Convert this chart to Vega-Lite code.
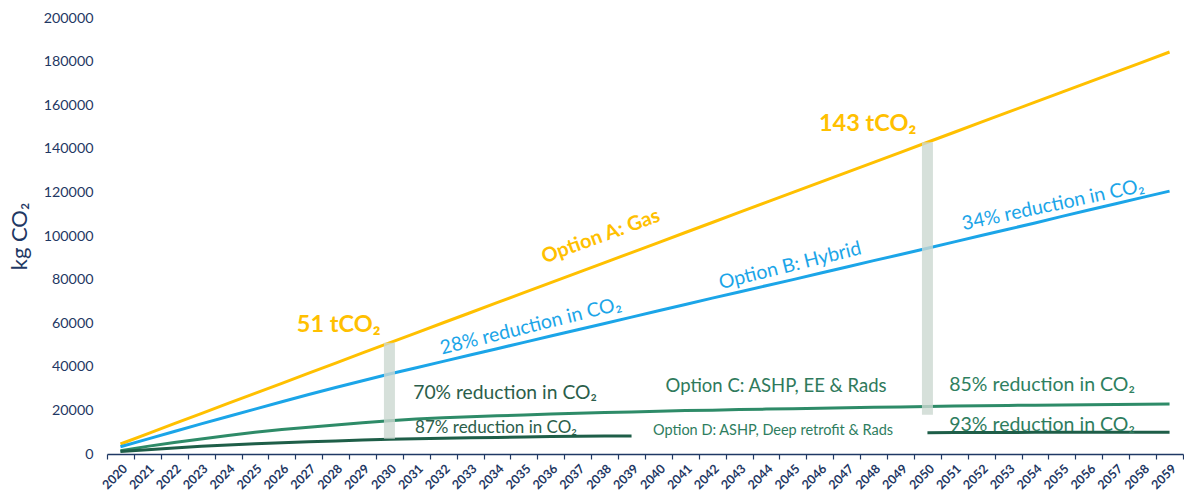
{
  "$schema": "https://vega.github.io/schema/vega-lite/v6.json",
  "width": 1076,
  "height": 436,
  "autosize": {"type": "none"},
  "padding": {"left": 107, "top": 18, "right": 1, "bottom": 43},
  "background": "white",
  "config": {
    "view": {"stroke": null},
    "font": "Lato"
  },
  "datasets": {
    "series": [
      {"year": 2020, "series": "A", "value": 4600},
      {"year": 2021, "series": "A", "value": 9200},
      {"year": 2022, "series": "A", "value": 13900},
      {"year": 2023, "series": "A", "value": 18500},
      {"year": 2024, "series": "A", "value": 23200},
      {"year": 2025, "series": "A", "value": 27800},
      {"year": 2026, "series": "A", "value": 32400},
      {"year": 2027, "series": "A", "value": 37100},
      {"year": 2028, "series": "A", "value": 41700},
      {"year": 2029, "series": "A", "value": 46400},
      {"year": 2030, "series": "A", "value": 51000},
      {"year": 2031, "series": "A", "value": 55600},
      {"year": 2032, "series": "A", "value": 60200},
      {"year": 2033, "series": "A", "value": 64800},
      {"year": 2034, "series": "A", "value": 69400},
      {"year": 2035, "series": "A", "value": 74000},
      {"year": 2036, "series": "A", "value": 78600},
      {"year": 2037, "series": "A", "value": 83200},
      {"year": 2038, "series": "A", "value": 87800},
      {"year": 2039, "series": "A", "value": 92400},
      {"year": 2040, "series": "A", "value": 97000},
      {"year": 2041, "series": "A", "value": 101600},
      {"year": 2042, "series": "A", "value": 106200},
      {"year": 2043, "series": "A", "value": 110800},
      {"year": 2044, "series": "A", "value": 115400},
      {"year": 2045, "series": "A", "value": 120000},
      {"year": 2046, "series": "A", "value": 124600},
      {"year": 2047, "series": "A", "value": 129200},
      {"year": 2048, "series": "A", "value": 133800},
      {"year": 2049, "series": "A", "value": 138400},
      {"year": 2050, "series": "A", "value": 143000},
      {"year": 2051, "series": "A", "value": 147600},
      {"year": 2052, "series": "A", "value": 152200},
      {"year": 2053, "series": "A", "value": 156800},
      {"year": 2054, "series": "A", "value": 161400},
      {"year": 2055, "series": "A", "value": 166000},
      {"year": 2056, "series": "A", "value": 170600},
      {"year": 2057, "series": "A", "value": 175200},
      {"year": 2058, "series": "A", "value": 179800},
      {"year": 2059, "series": "A", "value": 184400},
      {"year": 2020, "series": "B", "value": 3300},
      {"year": 2021, "series": "B", "value": 6800},
      {"year": 2022, "series": "B", "value": 10300},
      {"year": 2023, "series": "B", "value": 13800},
      {"year": 2024, "series": "B", "value": 17200},
      {"year": 2025, "series": "B", "value": 20600},
      {"year": 2026, "series": "B", "value": 24000},
      {"year": 2027, "series": "B", "value": 27300},
      {"year": 2028, "series": "B", "value": 30500},
      {"year": 2029, "series": "B", "value": 33600},
      {"year": 2030, "series": "B", "value": 36700},
      {"year": 2031, "series": "B", "value": 39600},
      {"year": 2032, "series": "B", "value": 42500},
      {"year": 2033, "series": "B", "value": 45400},
      {"year": 2034, "series": "B", "value": 48300},
      {"year": 2035, "series": "B", "value": 51200},
      {"year": 2036, "series": "B", "value": 54100},
      {"year": 2037, "series": "B", "value": 57000},
      {"year": 2038, "series": "B", "value": 59900},
      {"year": 2039, "series": "B", "value": 62800},
      {"year": 2040, "series": "B", "value": 65700},
      {"year": 2041, "series": "B", "value": 68600},
      {"year": 2042, "series": "B", "value": 71500},
      {"year": 2043, "series": "B", "value": 74300},
      {"year": 2044, "series": "B", "value": 77200},
      {"year": 2045, "series": "B", "value": 80000},
      {"year": 2046, "series": "B", "value": 82900},
      {"year": 2047, "series": "B", "value": 85800},
      {"year": 2048, "series": "B", "value": 88700},
      {"year": 2049, "series": "B", "value": 91500},
      {"year": 2050, "series": "B", "value": 94400},
      {"year": 2051, "series": "B", "value": 97300},
      {"year": 2052, "series": "B", "value": 100200},
      {"year": 2053, "series": "B", "value": 103100},
      {"year": 2054, "series": "B", "value": 106000},
      {"year": 2055, "series": "B", "value": 109000},
      {"year": 2056, "series": "B", "value": 111900},
      {"year": 2057, "series": "B", "value": 114800},
      {"year": 2058, "series": "B", "value": 117700},
      {"year": 2059, "series": "B", "value": 120600},
      {"year": 2020, "series": "C", "value": 1500},
      {"year": 2021, "series": "C", "value": 3500},
      {"year": 2022, "series": "C", "value": 5300},
      {"year": 2023, "series": "C", "value": 6900},
      {"year": 2024, "series": "C", "value": 8500},
      {"year": 2025, "series": "C", "value": 10000},
      {"year": 2026, "series": "C", "value": 11200},
      {"year": 2027, "series": "C", "value": 12300},
      {"year": 2028, "series": "C", "value": 13300},
      {"year": 2029, "series": "C", "value": 14300},
      {"year": 2030, "series": "C", "value": 15300},
      {"year": 2031, "series": "C", "value": 16000},
      {"year": 2032, "series": "C", "value": 16600},
      {"year": 2033, "series": "C", "value": 17100},
      {"year": 2034, "series": "C", "value": 17500},
      {"year": 2035, "series": "C", "value": 17900},
      {"year": 2036, "series": "C", "value": 18300},
      {"year": 2037, "series": "C", "value": 18700},
      {"year": 2038, "series": "C", "value": 19000},
      {"year": 2039, "series": "C", "value": 19300},
      {"year": 2040, "series": "C", "value": 19600},
      {"year": 2041, "series": "C", "value": 19900},
      {"year": 2042, "series": "C", "value": 20100},
      {"year": 2043, "series": "C", "value": 20400},
      {"year": 2044, "series": "C", "value": 20600},
      {"year": 2045, "series": "C", "value": 20800},
      {"year": 2046, "series": "C", "value": 21000},
      {"year": 2047, "series": "C", "value": 21200},
      {"year": 2048, "series": "C", "value": 21400},
      {"year": 2049, "series": "C", "value": 21600},
      {"year": 2050, "series": "C", "value": 21800},
      {"year": 2051, "series": "C", "value": 22000},
      {"year": 2052, "series": "C", "value": 22100},
      {"year": 2053, "series": "C", "value": 22300},
      {"year": 2054, "series": "C", "value": 22400},
      {"year": 2055, "series": "C", "value": 22500},
      {"year": 2056, "series": "C", "value": 22600},
      {"year": 2057, "series": "C", "value": 22700},
      {"year": 2058, "series": "C", "value": 22800},
      {"year": 2059, "series": "C", "value": 22900},
      {"year": 2020, "series": "D1", "value": 1200},
      {"year": 2021, "series": "D1", "value": 2000},
      {"year": 2022, "series": "D1", "value": 2800},
      {"year": 2023, "series": "D1", "value": 3500},
      {"year": 2024, "series": "D1", "value": 4100},
      {"year": 2025, "series": "D1", "value": 4700},
      {"year": 2026, "series": "D1", "value": 5200},
      {"year": 2027, "series": "D1", "value": 5600},
      {"year": 2028, "series": "D1", "value": 6000},
      {"year": 2029, "series": "D1", "value": 6400},
      {"year": 2030, "series": "D1", "value": 6800},
      {"year": 2031, "series": "D1", "value": 7000},
      {"year": 2032, "series": "D1", "value": 7200},
      {"year": 2033, "series": "D1", "value": 7400},
      {"year": 2034, "series": "D1", "value": 7600},
      {"year": 2035, "series": "D1", "value": 7800},
      {"year": 2036, "series": "D1", "value": 8000},
      {"year": 2037, "series": "D1", "value": 8100},
      {"year": 2038, "series": "D1", "value": 8200},
      {"year": 2039, "series": "D1", "value": 8300},
      {"year": 2050, "series": "D2", "value": 9800},
      {"year": 2051, "series": "D2", "value": 9850},
      {"year": 2052, "series": "D2", "value": 9870},
      {"year": 2053, "series": "D2", "value": 9900},
      {"year": 2054, "series": "D2", "value": 9920},
      {"year": 2055, "series": "D2", "value": 9940},
      {"year": 2056, "series": "D2", "value": 9960},
      {"year": 2057, "series": "D2", "value": 9980},
      {"year": 2058, "series": "D2", "value": 9990},
      {"year": 2059, "series": "D2", "value": 10000}
    ],
    "gaps": [
      {"year": 2030, "low": 7000, "high": 51000},
      {"year": 2050, "low": 18000, "high": 143000}
    ],
    "notes": [
      {"id": "gas", "year": 2038, "value": 100400, "label": "Option A: Gas"},
      {"id": "t51", "year": 2028, "value": 59200, "label": "51 tCO₂"},
      {"id": "t143", "year": 2048, "value": 151400, "label": "143 tCO₂"},
      {"id": "hyb", "year": 2045, "value": 86700, "label": "Option B: Hybrid"},
      {"id": "b28", "year": 2035, "value": 57800, "label": "28% reduction in CO₂"},
      {"id": "b34", "year": 2055, "value": 115100, "label": "34% reduction in CO₂"},
      {"id": "c70", "year": 2034, "value": 28000, "label": "70% reduction in CO₂"},
      {"id": "d87", "year": 2034, "value": 11900, "label": "87% reduction in CO₂"},
      {"id": "optc", "year": 2044, "value": 31200, "label": "Option C: ASHP, EE & Rads"},
      {"id": "c85", "year": 2054, "value": 31600, "label": "85% reduction in CO₂"},
      {"id": "optd", "year": 2044, "value": 10500, "label": "Option D: ASHP, Deep retrofit & Rads"},
      {"id": "d93", "year": 2054, "value": 13300, "label": "93% reduction in CO₂"}
    ]
  },
  "encoding": {
    "x": {
      "field": "year",
      "type": "ordinal",
      "scale": {"type": "band", "paddingInner": 0, "paddingOuter": 0},
      "axis": {
        "title": null,
        "labelAngle": -45,
        "labelFontSize": 12.5,
        "labelFontWeight": "bold",
        "labelColor": "#1F3864",
        "labelPadding": 3,
        "tickBand": "extent",
        "tickSize": 5,
        "tickColor": "#1F3864",
        "domainColor": "#1F3864",
        "domainWidth": 1.5,
        "tickWidth": 1.2
      }
    }
  },
  "layer": [
    {
      "data": {"name": "series"},
      "mark": {"type": "line", "strokeWidth": 3},
      "encoding": {
        "y": {
          "field": "value",
          "type": "quantitative",
          "scale": {"domain": [0, 200000], "nice": false},
          "axis": {
            "title": "kg CO₂",
            "titleFontSize": 22,
            "titleFontWeight": "normal",
            "titleColor": "#1F3864",
            "titlePadding": 12,
            "values": [0, 20000, 40000, 60000, 80000, 100000, 120000, 140000, 160000, 180000, 200000],
            "format": "d",
            "labelFontSize": 14.3,
            "labelColor": "#1F3864",
            "labelPadding": 14,
            "domain": false,
            "ticks": false,
            "grid": false
          }
        },
        "color": {
          "field": "series",
          "type": "nominal",
          "scale": {"domain": ["A", "B", "C", "D1", "D2"], "range": ["#FFC000", "#1BA5E8", "#2E8B68", "#1E5E48", "#1E5E48"]},
          "legend": null
        }
      }
    },
    {
      "data": {"name": "gaps"},
      "mark": {"type": "bar", "size": 11, "color": "#CCD8D1", "opacity": 0.8},
      "encoding": {
        "y": {"field": "low", "type": "quantitative"},
        "y2": {"field": "high"}
      }
    },
    {
      "data": {"name": "notes"},
      "transform": [{"filter": "datum.id === 'gas'"}],
      "mark": {"type": "text", "color": "#FFC000", "fontSize": 20, "fontWeight": "bold", "angle": -20, "dx": -4},
      "encoding": {"y": {"field": "value", "type": "quantitative"}, "text": {"field": "label"}}
    },
    {
      "data": {"name": "notes"},
      "transform": [{"filter": "datum.id === 't51'"}],
      "mark": {"type": "text", "color": "#FFC000", "fontSize": 23.5, "fontWeight": "bold", "dx": 3},
      "encoding": {"y": {"field": "value", "type": "quantitative"}, "text": {"field": "label"}}
    },
    {
      "data": {"name": "notes"},
      "transform": [{"filter": "datum.id === 't143'"}],
      "mark": {"type": "text", "color": "#FFC000", "fontSize": 23.5, "fontWeight": "bold", "dx": -6},
      "encoding": {"y": {"field": "value", "type": "quantitative"}, "text": {"field": "label"}}
    },
    {
      "data": {"name": "notes"},
      "transform": [{"filter": "datum.id === 'hyb'"}],
      "mark": {"type": "text", "color": "#1BA5E8", "fontSize": 19.5, "angle": -14, "dx": -3},
      "encoding": {"y": {"field": "value", "type": "quantitative"}, "text": {"field": "label"}}
    },
    {
      "data": {"name": "notes"},
      "transform": [{"filter": "datum.id === 'b28'"}],
      "mark": {"type": "text", "color": "#1BA5E8", "fontSize": 19.5, "angle": -14, "dx": 7},
      "encoding": {"y": {"field": "value", "type": "quantitative"}, "text": {"field": "label"}}
    },
    {
      "data": {"name": "notes"},
      "transform": [{"filter": "datum.id === 'b34'"}],
      "mark": {"type": "text", "color": "#1BA5E8", "fontSize": 19.5, "angle": -12, "dx": -9},
      "encoding": {"y": {"field": "value", "type": "quantitative"}, "text": {"field": "label"}}
    },
    {
      "data": {"name": "notes"},
      "transform": [{"filter": "datum.id === 'c70'"}],
      "mark": {"type": "text", "color": "#2B5E4A", "fontSize": 19.3, "dx": 8},
      "encoding": {"y": {"field": "value", "type": "quantitative"}, "text": {"field": "label"}}
    },
    {
      "data": {"name": "notes"},
      "transform": [{"filter": "datum.id === 'd87'"}],
      "mark": {"type": "text", "color": "#2B5E4A", "fontSize": 17, "dx": -1},
      "encoding": {"y": {"field": "value", "type": "quantitative"}, "text": {"field": "label"}}
    },
    {
      "data": {"name": "notes"},
      "transform": [{"filter": "datum.id === 'optc'"}],
      "mark": {"type": "text", "color": "#2F7A5C", "fontSize": 18.5, "dx": 10},
      "encoding": {"y": {"field": "value", "type": "quantitative"}, "text": {"field": "label"}}
    },
    {
      "data": {"name": "notes"},
      "transform": [{"filter": "datum.id === 'c85'"}],
      "mark": {"type": "text", "color": "#2E8060", "fontSize": 19.5, "dx": 7},
      "encoding": {"y": {"field": "value", "type": "quantitative"}, "text": {"field": "label"}}
    },
    {
      "data": {"name": "notes"},
      "transform": [{"filter": "datum.id === 'optd'"}],
      "mark": {"type": "text", "color": "#2E7D5E", "fontSize": 14.5, "dx": 7},
      "encoding": {"y": {"field": "value", "type": "quantitative"}, "text": {"field": "label"}}
    },
    {
      "data": {"name": "notes"},
      "transform": [{"filter": "datum.id === 'd93'"}],
      "mark": {"type": "text", "color": "#2E7D5E", "fontSize": 19.5, "dx": 7},
      "encoding": {"y": {"field": "value", "type": "quantitative"}, "text": {"field": "label"}}
    }
  ]
}
